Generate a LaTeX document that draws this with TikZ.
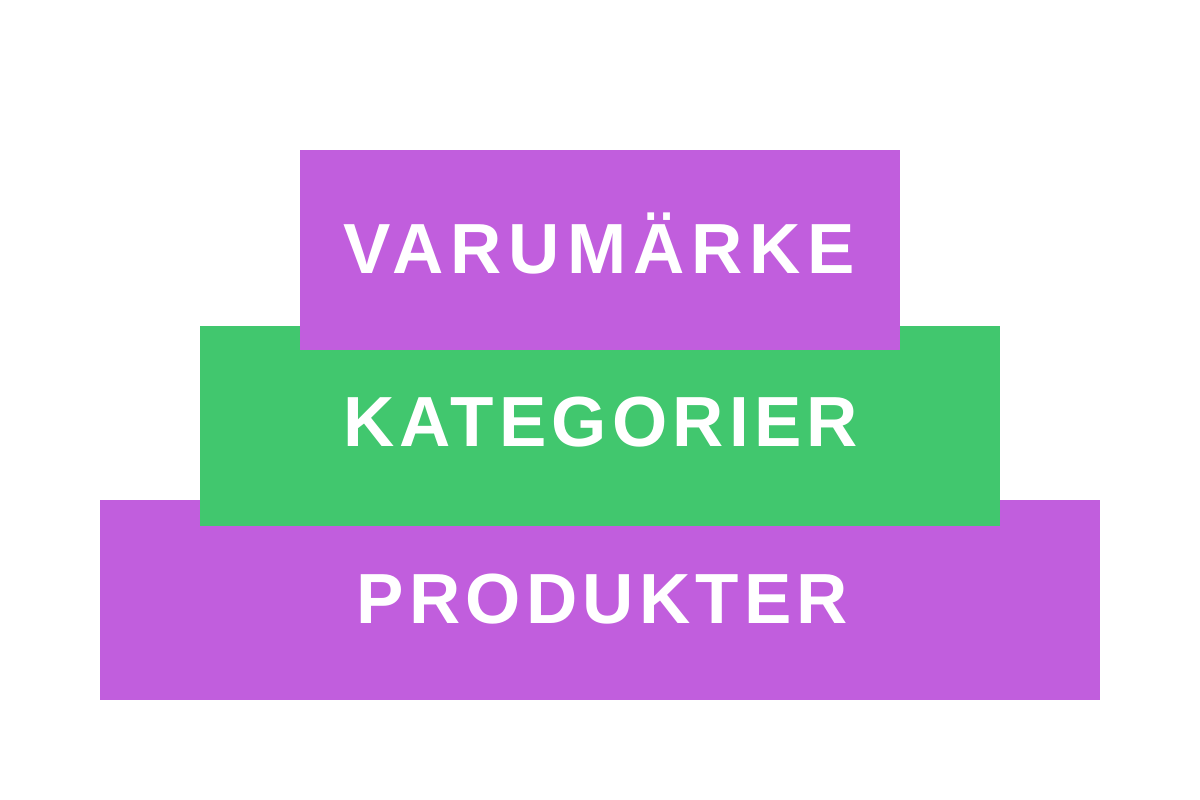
\documentclass[tikz,border=0pt]{standalone}
\usepackage{fontspec}
\setmainfont{Liberation Sans}
\newfontfamily\lblfont[LetterSpace=7.3]{Liberation Sans}
\newfontfamily\lblfontw[LetterSpace=9.8]{Liberation Sans}
\definecolor{lilac}{HTML}{C15EDD}
\definecolor{grn}{HTML}{41C76E}
\begin{document}
\begin{tikzpicture}[x=1pt,y=-1pt,
  band/.style={draw=none,minimum height=200pt,inner sep=0pt,anchor=north west},
  lbl/.style={text=white,inner sep=0pt,font=\lblfont\bfseries\fontsize{71}{71}\selectfont,anchor=base}]
\useasboundingbox (0,0) rectangle (1200,800);
\fill[white] (0,0) rectangle (1200,800);
\node[band,fill=lilac,minimum width=1000pt] (prod) at (100,500) {};
\node[band,fill=grn,minimum width=800pt] (kat) at (200,326) {};
\node[band,fill=lilac,minimum width=600pt] (varu) at (300,150) {};
\node[lbl,font=\lblfontw\bfseries\fontsize{71}{71}\selectfont] (tv) at (599.5,273) {VARUMÄRKE};
\node[lbl] (tk) at (600.5,446) {KATEGORIER};
\node[lbl] (tp) at (602.5,623) {PRODUKTER};
\end{tikzpicture}
\end{document}
